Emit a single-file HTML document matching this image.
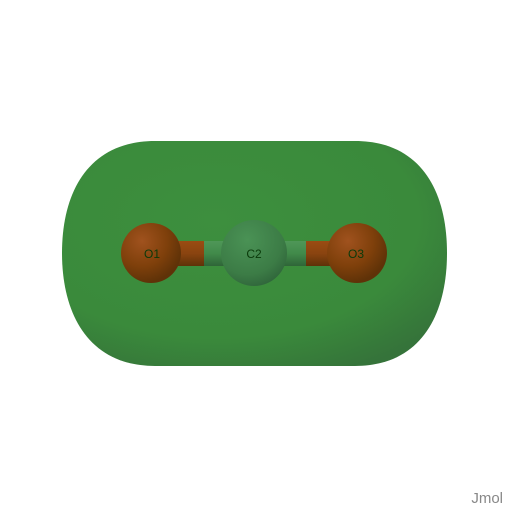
<!DOCTYPE html>
<html><head><style>
html,body{margin:0;padding:0;background:#fff;}
svg{display:block;}
</style></head><body>
<svg width="508" height="507" viewBox="0 0 508 507">
<defs>
<radialGradient id="surf" cx="0.4" cy="0.35" r="0.75">
<stop offset="0" stop-color="#3d8f3e"/><stop offset="0.7" stop-color="#3a8a3b"/><stop offset="1" stop-color="#35733a"/>
</radialGradient>
<radialGradient id="oxy" cx="0.35" cy="0.3" r="0.7">
<stop offset="0" stop-color="#a0521e"/><stop offset="0.6" stop-color="#7f400b"/><stop offset="1" stop-color="#5f3208"/>
</radialGradient>
<radialGradient id="carb" cx="0.4" cy="0.3" r="0.75">
<stop offset="0" stop-color="#4a9255"/><stop offset="0.7" stop-color="#3c7c46"/><stop offset="1" stop-color="#2f643a"/>
</radialGradient>
<linearGradient id="bondO" x1="0" y1="0" x2="0" y2="1">
<stop offset="0" stop-color="#9a4c12"/><stop offset="0.5" stop-color="#8a4410"/><stop offset="1" stop-color="#5e3208"/>
</linearGradient>
<linearGradient id="bondC" x1="0" y1="0" x2="0" y2="1">
<stop offset="0" stop-color="#4f9758"/><stop offset="0.5" stop-color="#418a4a"/><stop offset="1" stop-color="#2f6438"/>
</linearGradient>
</defs>
<path d="M155,141 L355,141 C420,141 447,190 447,253 C447,316 420,366 355,366 L155,366 C90,366 62,316 62,253 C62,190 90,141 155,141 Z" fill="url(#surf)"/>
<rect x="178" y="241" width="26" height="25" fill="url(#bondO)"/>
<rect x="204" y="241" width="24" height="25" fill="url(#bondC)"/>
<rect x="280" y="241" width="26" height="25" fill="url(#bondC)"/>
<rect x="306" y="241" width="24" height="25" fill="url(#bondO)"/>
<circle cx="151" cy="253" r="30" fill="url(#oxy)"/>
<circle cx="254" cy="253" r="33" fill="url(#carb)"/>
<circle cx="357" cy="253" r="30" fill="url(#oxy)"/>
<g font-family="Liberation Sans, sans-serif" font-size="12" fill="#0a3a0a" text-anchor="middle">
<text x="152" y="258">O1</text>
<text x="254" y="258">C2</text>
<text x="356" y="258">O3</text>
</g>
<text x="503" y="503" font-family="Liberation Sans, sans-serif" font-size="15" fill="#888" text-anchor="end">Jmol</text>
</svg>
</body></html>
